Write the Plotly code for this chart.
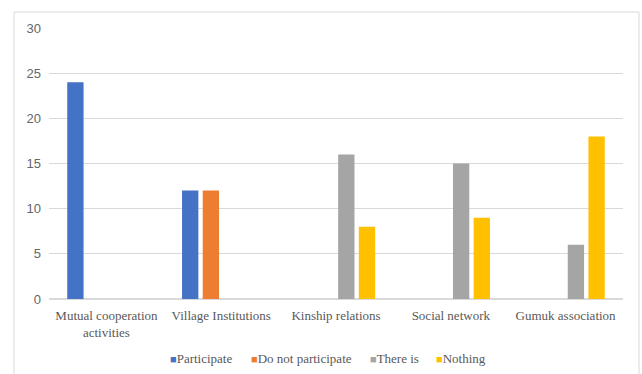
import plotly.graph_objects as go

categories = ["Mutual cooperation<br>activities", "Village Institutions", "Kinship relations",
              "Social network", "Gumuk association"]
participate = [24, 12, None, None, None]
do_not_participate = [None, 12, None, None, None]
there_is = [None, None, 16, 15, 6]
nothing = [None, None, 8, 9, 18]
y_ticks = [0, 5, 10, 15, 20, 25, 30]

series = [
    ("Participate", participate, "#4472C4"),
    ("Do not participate", do_not_participate, "#ED7D31"),
    ("There is", there_is, "#A5A5A5"),
    ("Nothing", nothing, "#FFC000"),
]

fig = go.Figure()
for name, vals, col in series:
    fig.add_trace(go.Bar(x=categories, y=vals, name=name, marker_color=col,
                         marker_line_width=0, showlegend=False))

L, R, T, B = 49, 19, 28, 75
W, H = 642, 374
pw, ph = W - L - R, H - T - B

def px_x(x):
    return (x - L) / pw

def px_y(y):
    return (T + ph - y) / ph

# manual legend (text annotations)
legend_x = [168, 249, 368, 434]
annotations = []
for (name, vals, col), lx in zip(series, legend_x):
    annotations.append(dict(
        xref="paper", yref="paper", x=px_x(lx), y=px_y(358),
        xanchor="left", yanchor="middle", showarrow=False,
        text=f"<span style='color:{col};font-size:11px'>■</span>{name}",
        font=dict(family="Liberation Serif", size=13, color="#595959")))

fig.update_layout(
    width=W, height=H,
    margin=dict(l=L, r=R, t=T, b=B, autoexpand=False),
    paper_bgcolor="white", plot_bgcolor="white",
    barmode="group", bargap=0.28, bargroupgap=0.21,
    showlegend=False,
    xaxis=dict(showgrid=False, showline=False, ticks="", automargin=False,
               ticklabelstandoff=7,
               tickfont=dict(family="Liberation Serif", size=13, color="#595959")),
    yaxis=dict(range=[0, 30], tickvals=y_ticks, showgrid=True, gridcolor="#D9D9D9",
               gridwidth=1, zeroline=True, zerolinecolor="#D9D9D9", showline=False,
               ticks="", ticklen=0, automargin=False, ticklabelstandoff=7,
               tickfont=dict(family="Liberation Sans", size=13, color="#666666")),
    annotations=annotations,
    shapes=[dict(type="rect", xref="paper", yref="paper",
                 x0=px_x(14), x1=px_x(639),
                 y0=px_y(380), y1=px_y(12),
                 line=dict(color="#D9D9D9", width=1), layer="below")],
)

fig.write_html("out.html")
